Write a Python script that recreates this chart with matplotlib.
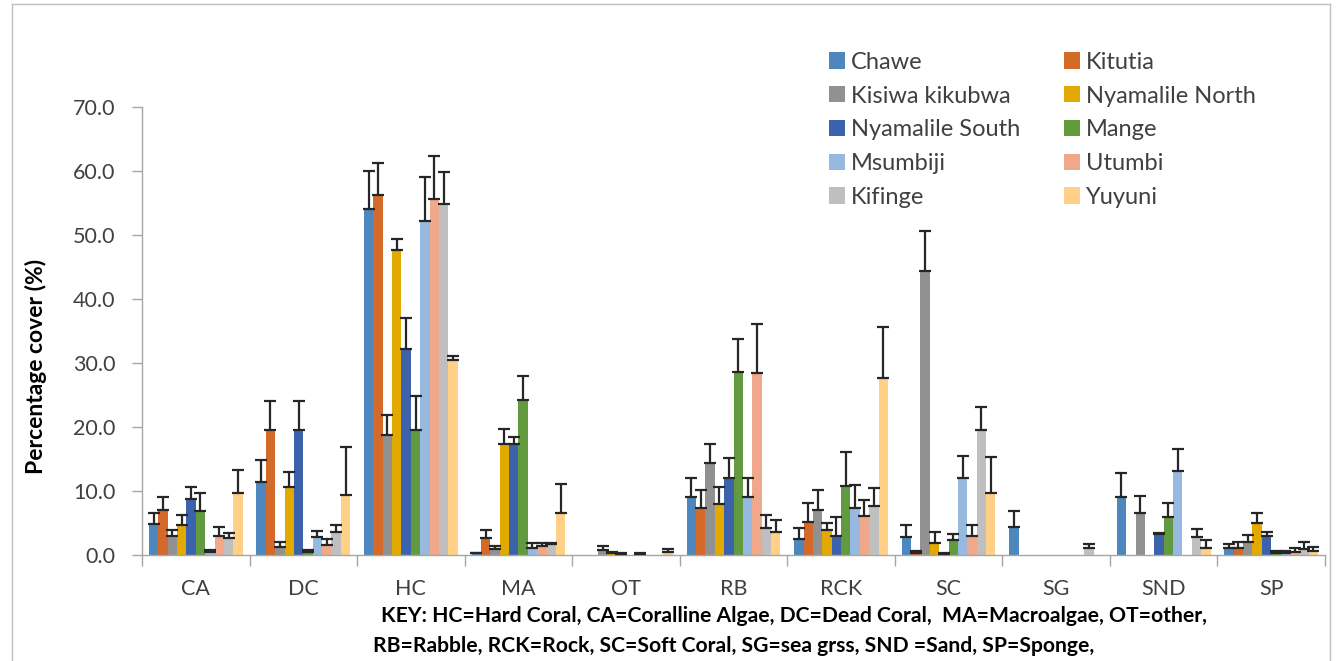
import matplotlib
matplotlib.use("Agg")
import matplotlib.pyplot as plt
import numpy as np
from matplotlib.patches import Patch
from matplotlib.lines import Line2D

plt.rcParams["font.family"] = ["Lato", "DejaVu Sans"]

# Benthic categories on the x axis
categories = ["CA", "DC", "HC", "MA", "OT", "RB", "RCK", "SC", "SG", "SND", "SP"]

sites = ["Chawe", "Kitutia", "Kisiwa kikubwa", "Nyamalile North", "Nyamalile South",
         "Mange", "Msumbiji", "Utumbi", "Kifinge", "Yuyuni"]

site_colors = ["#4E87BE", "#D46A2A", "#919191", "#E2A900", "#3D62AC",
               "#629A40", "#97B9E0", "#F0A88A", "#BFBFBF", "#FFD085"]

# Mean percentage cover per site (one value per category) and standard error
chawe = [4.9, 11.4, 54.0, 0.25, 0, 9.1, 2.55, 2.75, 4.4, 9.0, 1.15]
chawe_err = [1.6, 3.5, 6.0, 0.1, 0, 3.0, 1.7, 1.95, 2.5, 3.75, 0.55]
kitutia = [7.0, 19.6, 56.2, 2.7, 0, 7.35, 5.15, 0.3, 0, 0, 1.15]
kitutia_err = [2.1, 4.5, 5.0, 1.15, 0, 2.75, 2.9, 0.3, 0, 0, 0.95]
kisiwa = [3.0, 1.3, 18.8, 0.95, 0.75, 14.4, 7.1, 44.3, 0, 6.55, 2.1]
kisiwa_err = [0.9, 0.8, 3.0, 0.45, 0.7, 2.9, 3.0, 6.4, 0, 2.7, 1.0]
nyamalile_n = [4.7, 10.6, 47.6, 17.4, 0.3, 8.0, 3.9, 1.95, 0, 0, 4.95]
nyamalile_n_err = [1.6, 2.3, 1.7, 2.3, 0.2, 2.7, 1.15, 1.7, 0, 0, 1.55]
nyamalile_s = [8.75, 19.6, 32.2, 17.4, 0.15, 12.1, 2.9, 0.1, 0, 3.3, 3.0]
nyamalile_s_err = [1.9, 4.5, 4.9, 1.0, 0.2, 3.0, 3.0, 0.2, 0, 0.1, 0.65]
mange = [6.8, 0.5, 19.5, 24.2, 0, 28.6, 10.8, 2.35, 0, 5.95, 0.25]
mange_err = [2.9, 0.35, 5.4, 3.7, 0, 5.2, 5.3, 0.95, 0, 2.2, 0.4]
msumbiji = [0.5, 2.75, 52.2, 1.15, 0.15, 9.1, 7.35, 12.1, 0, 13.2, 0.25]
msumbiji_err = [0.35, 0.95, 6.8, 0.75, 0.2, 3.0, 3.55, 3.4, 0, 3.3, 0.35]
utumbi = [2.9, 1.55, 55.6, 1.35, 0, 28.4, 6.15, 2.9, 0, 0, 0.5]
utumbi_err = [1.4, 0.95, 6.7, 0.55, 0, 7.7, 2.4, 1.8, 0, 0, 0.6]
kifinge = [2.7, 3.6, 54.8, 1.75, 0, 4.2, 7.7, 19.5, 1.15, 2.75, 1.0]
kifinge_err = [0.8, 1.1, 5.0, 0.2, 0, 2.1, 2.8, 3.7, 0.55, 1.35, 1.1]
yuyuni = [9.7, 9.4, 30.4, 6.5, 0.4, 3.55, 27.6, 9.7, 0, 1.15, 0.6]
yuyuni_err = [3.6, 7.5, 0.7, 4.6, 0.5, 1.9, 8.1, 5.6, 0, 1.15, 0.7]

y_ticks = [0, 10, 20, 30, 40, 50, 60, 70]

key_line1 = "KEY: HC=Hard Coral, CA=Coralline Algae, DC=Dead Coral,  MA=Macroalgae, OT=other,"
key_line2 = "RB=Rabble, RCK=Rock, SC=Soft Coral, SG=sea grss, SND =Sand, SP=Sponge,"

means = [chawe, kitutia, kisiwa, nyamalile_n, nyamalile_s, mange, msumbiji, utumbi, kifinge, yuyuni]
errors = [chawe_err, kitutia_err, kisiwa_err, nyamalile_n_err, nyamalile_s_err,
          mange_err, msumbiji_err, utumbi_err, kifinge_err, yuyuni_err]

W, H = 1338, 661
fig = plt.figure(figsize=(W / 100, H / 100), dpi=100)
ax = fig.add_axes([142 / W, 1 - 555 / H, (1325 - 142) / W, (555 - 107) / H])

n = len(sites)
x = np.arange(len(categories))
bw = 0.0872

for i, (vals, errs) in enumerate(zip(means, errors)):
    vals = np.array(vals, dtype=float)
    errs = np.array(errs, dtype=float)
    pos = x + (i - (n - 1) / 2) * bw
    ax.bar(pos, vals, width=bw, color=site_colors[i], edgecolor="none", zorder=2)
    mask = vals > 0
    ax.errorbar(pos[mask], vals[mask], yerr=[np.zeros(mask.sum()), errs[mask]],
                fmt="none", ecolor="#262626", elinewidth=1.6, capsize=4.6,
                capthick=1.6, zorder=3)

ax.set_xlim(-0.5, len(categories) - 0.5)
ax.set_ylim(0, 70)
ax.set_yticks(y_ticks)
ax.set_yticklabels([f"{v:.1f}" for v in y_ticks])

# category boundaries carry the tick marks, labels sit at the centres
ax.set_xticks(np.arange(len(categories) + 1) - 0.5)
ax.set_xticklabels([])
ax.set_xticks(x, minor=True)
ax.set_xticklabels(categories, minor=True)
ax.tick_params(axis="x", which="major", length=8, width=1, color="#A6A6A6")
ax.tick_params(axis="x", which="minor", length=0, pad=17, labelsize=15.5, labelcolor="#404040")
ax.tick_params(axis="y", length=7, width=1, color="#A6A6A6", pad=12,
               labelsize=15.5, labelcolor="#404040")

for side in ("top", "right"):
    ax.spines[side].set_visible(False)
for side in ("left", "bottom"):
    ax.spines[side].set_color("#A6A6A6")
    ax.spines[side].set_linewidth(1)

ax.set_ylabel("Percentage cover (%)", fontsize=16.5, fontweight="bold", color="#000000")
ax.yaxis.set_label_coords(-(142 - 47) / (1325 - 142), 0.42)

# legend: two columns filled row by row
handles = [Patch(facecolor=c, edgecolor="none") for c in site_colors]
order = [0, 2, 4, 6, 8, 1, 3, 5, 7, 9]
leg = fig.legend([handles[k] for k in order], [sites[k] for k in order],
                 ncol=2, loc="upper left", bbox_to_anchor=(817 / W, 1 - 40 / H),
                 frameon=False, fontsize=17, handlelength=0.68, handleheight=0.68,
                 handletextpad=0.25, columnspacing=1.85, labelspacing=0.54,
                 borderpad=0, labelcolor="#404040")

fig.text(794 / W, 1 - 616 / H, key_line1, ha="center", va="center",
         fontsize=15.2, fontweight="bold", color="#000000")
fig.text(734 / W, 1 - 646 / H, key_line2, ha="center", va="center",
         fontsize=15.2, fontweight="bold", color="#000000")

# chart frame
frame_col = "#C0C0C0"
fig.add_artist(Line2D([12 / W, 12 / W], [0, 1 - 4 / H], transform=fig.transFigure, color=frame_col, lw=1))
fig.add_artist(Line2D([12 / W, 1330 / W], [1 - 4 / H, 1 - 4 / H], transform=fig.transFigure, color=frame_col, lw=1))
fig.add_artist(Line2D([1330 / W, 1330 / W], [0, 1 - 4 / H], transform=fig.transFigure, color=frame_col, lw=1))

fig.savefig("out.png", dpi=100, facecolor="white")
